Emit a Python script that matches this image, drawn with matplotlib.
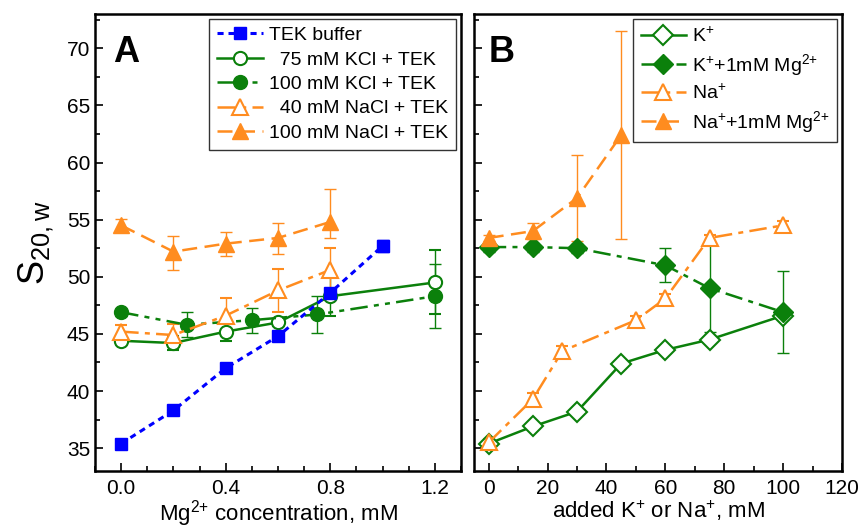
import matplotlib
matplotlib.use('Agg')
import matplotlib.pyplot as plt
from matplotlib.ticker import MultipleLocator

plt.rcParams['font.family'] = ['Liberation Sans', 'DejaVu Sans']
plt.rcParams['mathtext.default'] = 'regular'

GREEN = '#0b800b'
ORANGE = '#ff8c1f'
BLUE = '#0000ff'

# ---- panel A: Mg2+ concentration (mM) ----
mg_tek = [0.0, 0.2, 0.4, 0.6, 0.8, 1.0]
s_tek = [35.4, 38.3, 42.0, 44.8, 48.6, 52.7]
e_tek = [0.2, 0.2, 0.2, 0.2, 0.2, 0.5]

mg_kcl75 = [0.0, 0.2, 0.4, 0.6, 0.8, 1.2]
s_kcl75 = [44.4, 44.2, 45.2, 46.0, 48.3, 49.5]
e_kcl75 = [0.3, 0.6, 0.8, 0.3, 1.7, 2.8]

mg_kcl100 = [0.0, 0.25, 0.5, 0.75, 1.2]
s_kcl100 = [46.9, 45.8, 46.2, 46.7, 48.3]
e_kcl100 = [0.3, 1.1, 1.1, 1.6, 2.8]

mg_nacl40 = [0.0, 0.2, 0.4, 0.6, 0.8]
s_nacl40 = [45.2, 44.9, 46.6, 48.8, 50.6]
e_nacl40 = [0.6, 1.0, 1.5, 1.9, 1.9]

mg_nacl100 = [0.0, 0.2, 0.4, 0.6, 0.8]
s_nacl100 = [54.5, 52.2, 52.9, 53.4, 54.8]
e_nacl100_lo = [0.6, 1.6, 1.1, 1.4, 1.4]
e_nacl100_hi = [0.6, 1.4, 1.0, 1.3, 2.9]

# ---- panel B: added K+ or Na+ (mM) ----
k_conc = [0, 15, 30, 45, 60, 75, 100]
s_k = [35.4, 36.9, 38.2, 42.4, 43.6, 44.5, 46.6]
e_k = [0.3, 0.3, 0.3, 0.3, 0.3, 0.3, 0.3]

kmg_conc = [0, 15, 30, 60, 75, 100]
s_kmg = [52.6, 52.6, 52.5, 51.0, 49.0, 46.9]
e_kmg = [0.4, 0.4, 0.4, 1.5, 3.8, 3.6]

na_conc = [0, 15, 25, 50, 60, 75, 100]
s_na = [35.5, 39.3, 43.5, 46.2, 48.1, 53.4, 54.5]
e_na = [0.3, 0.5, 0.4, 0.4, 0.4, 0.3, 0.4]

namg_conc = [0, 15, 30, 45]
s_namg = [53.4, 54.0, 56.9, 62.4]
e_namg = [0.3, 0.7, 3.8, 9.1]

DASHDOT = (0, (7, 2.5, 2, 2.5))
DASHDOTDOT = (0, (7, 2.5, 2, 2.5, 2, 2.5))
DASHED = (0, (6, 3))
DOTTED = (0, (2, 1.6))

MG2 = 'Mg$^{2{+}}$'

fig = plt.figure(figsize=(8.61, 5.28), dpi=100)
axA = fig.add_axes([95/861, 57/528, 366/861, 457/528])
axB = fig.add_axes([474/861, 57/528, 368/861, 457/528])

eb = dict(capsize=4.5, elinewidth=1.0, capthick=1.0, linewidth=1.8)

''' Panel A '''
hA = []
c = axA.errorbar(mg_tek, s_tek, yerr=e_tek, color=BLUE, marker='s', ms=9,
                 ls=DOTTED, lw=2.2, capsize=4.5, elinewidth=1.0, zorder=5)
hA.append(c[0])
c = axA.errorbar(mg_kcl75, s_kcl75, yerr=e_kcl75, color=GREEN, marker='o', ms=9.5,
                 mfc='white', mew=1.5, ls='-', **eb)
hA.append(c[0])
c = axA.errorbar(mg_kcl100, s_kcl100, yerr=e_kcl100, color=GREEN, marker='o', ms=10,
                 ls=DASHDOTDOT, **eb)
hA.append(c[0])
c = axA.errorbar(mg_nacl40, s_nacl40, yerr=e_nacl40, color=ORANGE, marker='^', ms=11,
                 mfc='white', mew=1.5, ls=DASHDOT, **eb)
hA.append(c[0])
c = axA.errorbar(mg_nacl100, s_nacl100, yerr=[e_nacl100_lo, e_nacl100_hi], color=ORANGE,
                 marker='^', ms=11, ls=DASHED, **eb)
hA.append(c[0])
labA = ['TEK buffer', '  75 mM KCl + TEK', '100 mM KCl + TEK',
        '  40 mM NaCl + TEK', '100 mM NaCl + TEK']

axA.set_xlim(-0.1, 1.3)
axA.xaxis.set_minor_locator(MultipleLocator(0.1))
axA.set_xticks([0.0, 0.4, 0.8, 1.2])
axA.set_xticklabels(['0.0', '0.4', '0.8', '1.2'])
axA.set_xlabel(MG2 + ' concentration, mM', fontsize=16, labelpad=0)
axA.set_ylabel('S$_{20,w}$', fontsize=26, labelpad=8)
axA.text(0.05, 0.955, 'A', transform=axA.transAxes, fontsize=26, fontweight='bold',
         va='top', ha='left')
legA = axA.legend(hA, labA, loc='upper right', fontsize=14, frameon=True, fancybox=False,
                  edgecolor='black', borderaxespad=0.25, handlelength=2.4,
                  handletextpad=0.3, labelspacing=0.35, borderpad=0.4)
legA.get_frame().set_linewidth(1.0)

''' Panel B '''
hB = []
c = axB.errorbar(k_conc, s_k, yerr=e_k, color=GREEN, marker='D', ms=10, mfc='white', mew=1.5,
                 ls='-', **eb)
hB.append(c[0])
c = axB.errorbar(kmg_conc, s_kmg, yerr=e_kmg, color=GREEN, marker='D', ms=10,
                 ls=DASHDOT, **eb)
hB.append(c[0])
c = axB.errorbar(na_conc, s_na, yerr=e_na, color=ORANGE, marker='^', ms=11, mfc='white', mew=1.5,
                 ls=DASHDOT, **eb)
hB.append(c[0])
c = axB.errorbar(namg_conc, s_namg, yerr=e_namg, color=ORANGE, marker='^', ms=11,
                 ls=DASHED, **eb)
hB.append(c[0])
labB = ['K$^{+}$', 'K$^{+}$+1mM ' + MG2, 'Na$^{+}$', 'Na$^{+}$+1mM ' + MG2]

axB.set_xlim(-5, 120)
axB.xaxis.set_major_locator(MultipleLocator(20))
axB.xaxis.set_minor_locator(MultipleLocator(10))
axB.set_xlabel('added K$^{+}$ or Na$^{+}$, mM', fontsize=16, labelpad=0)
axB.tick_params(axis='y', labelleft=False)
axB.text(0.04, 0.955, 'B', transform=axB.transAxes, fontsize=26, fontweight='bold',
         va='top', ha='left')
legB = axB.legend(hB, labB, loc='upper right', fontsize=14, frameon=True, fancybox=False,
                  edgecolor='black', borderaxespad=0.25, handlelength=2.3,
                  handletextpad=0.3, labelspacing=0.3, borderpad=0.4)
legB.get_frame().set_linewidth(1.0)

for ax in (axA, axB):
    ax.set_ylim(33, 73)
    ax.yaxis.set_major_locator(MultipleLocator(5))
    ax.yaxis.set_minor_locator(MultipleLocator(2.5))
    ax.tick_params(which='both', direction='in', labelsize=15, width=1.2)
    ax.tick_params(which='major', length=6)
    ax.tick_params(which='minor', length=3.5)
    ax.tick_params(axis='x', pad=6)
    for sp in ax.spines.values():
        sp.set_linewidth(1.8)

fig.savefig('out.png', dpi=100)
